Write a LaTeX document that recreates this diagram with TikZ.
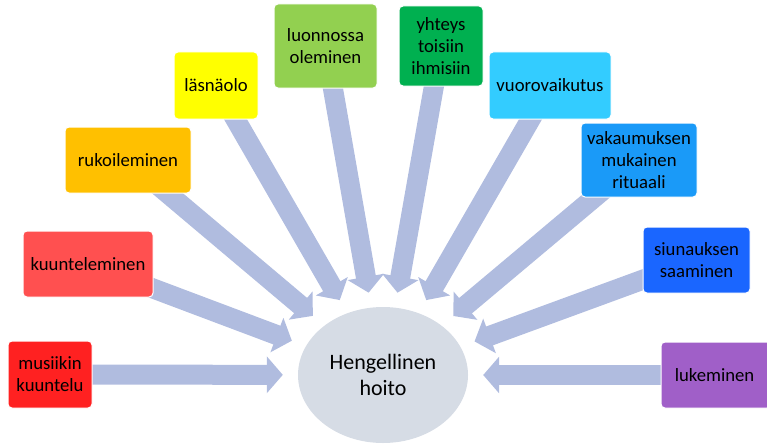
\documentclass[tikz,border=0pt]{standalone}
\usepackage{fontspec}
\setmainfont{Carlito}
\usetikzlibrary{arrows.meta,shapes.geometric,backgrounds}
\definecolor{cmus}{HTML}{FF2121}
\definecolor{ckuu}{HTML}{FF5050}
\definecolor{cruk}{HTML}{FFC000}
\definecolor{clas}{HTML}{FFFF00}
\definecolor{cluo}{HTML}{92D050}
\definecolor{cyht}{HTML}{00B050}
\definecolor{cvuo}{HTML}{33CCFF}
\definecolor{cvak}{HTML}{1A9AF8}
\definecolor{csiu}{HTML}{1A66FF}
\definecolor{cluk}{HTML}{A05FC8}
\definecolor{chub}{HTML}{D6DCE5}
\definecolor{carrow}{HTML}{B0BCDF}
\begin{document}
\begin{tikzpicture}[x=1pt,y=-1pt,
  item/.style={rectangle, rounded corners=4pt, draw=white, line width=1pt,
    inner sep=0pt, align=center, text=black,
    font=\fontsize{18.7}{22}\selectfont},
  flow/.style={draw=carrow, line width=20pt,
    -{Triangle[length=16pt,width=36pt]}, shorten >=15pt}]
\useasboundingbox (0,0) rectangle (767,444);
\node[ellipse, fill=chub, minimum width=170pt, minimum height=136pt, inner sep=0pt,
  align=center, font=\fontsize{22}{26}\selectfont] (hub) at (383,375) {Hengellinen\\hoito};
\node[item, fill=cmus, minimum width=84pt, minimum height=67pt] (mus) at (50,374.5) {musiikin\\kuuntelu};
\node[item, fill=ckuu, minimum width=130pt, minimum height=66pt] (kuu) at (88,264) {kuunteleminen};
\node[item, fill=cruk, minimum width=126pt, minimum height=66pt] (ruk) at (128,160) {rukoileminen};
\node[item, fill=clas, minimum width=84pt, minimum height=67pt] (las) at (216,85.5) {läsnäolo};
\node[item, fill=cluo, minimum width=103pt, minimum height=84pt] (luo) at (325.5,46) {luonnossa\\oleminen};
\node[item, fill=cyht, minimum width=84pt, minimum height=80pt] (yht) at (441,46) {yhteys\\toisiin\\ihmisiin};
\node[item, fill=cvuo, minimum width=122pt, minimum height=67pt] (vuo) at (550,85.5) {vuorovaikutus};
\node[item, fill=cvak, minimum width=116pt, minimum height=74pt] (vak) at (639,160) {vakaumuksen\\mukainen\\rituaali};
\node[item, fill=csiu, minimum width=107pt, minimum height=66pt] (siu) at (696.5,260) {siunauksen\\saaminen};
\node[item, fill=cluk, minimum width=110pt, minimum height=66pt, text width=106pt] (luk) at (716,375) {lukeminen\hspace*{3pt}};
\begin{scope}[on background layer]
\foreach \b in {mus,kuu,ruk,las,luo,yht,vuo,vak,siu,luk}
  \draw[flow] (\b.center) -- (hub);
\end{scope}
\end{tikzpicture}
\end{document}
